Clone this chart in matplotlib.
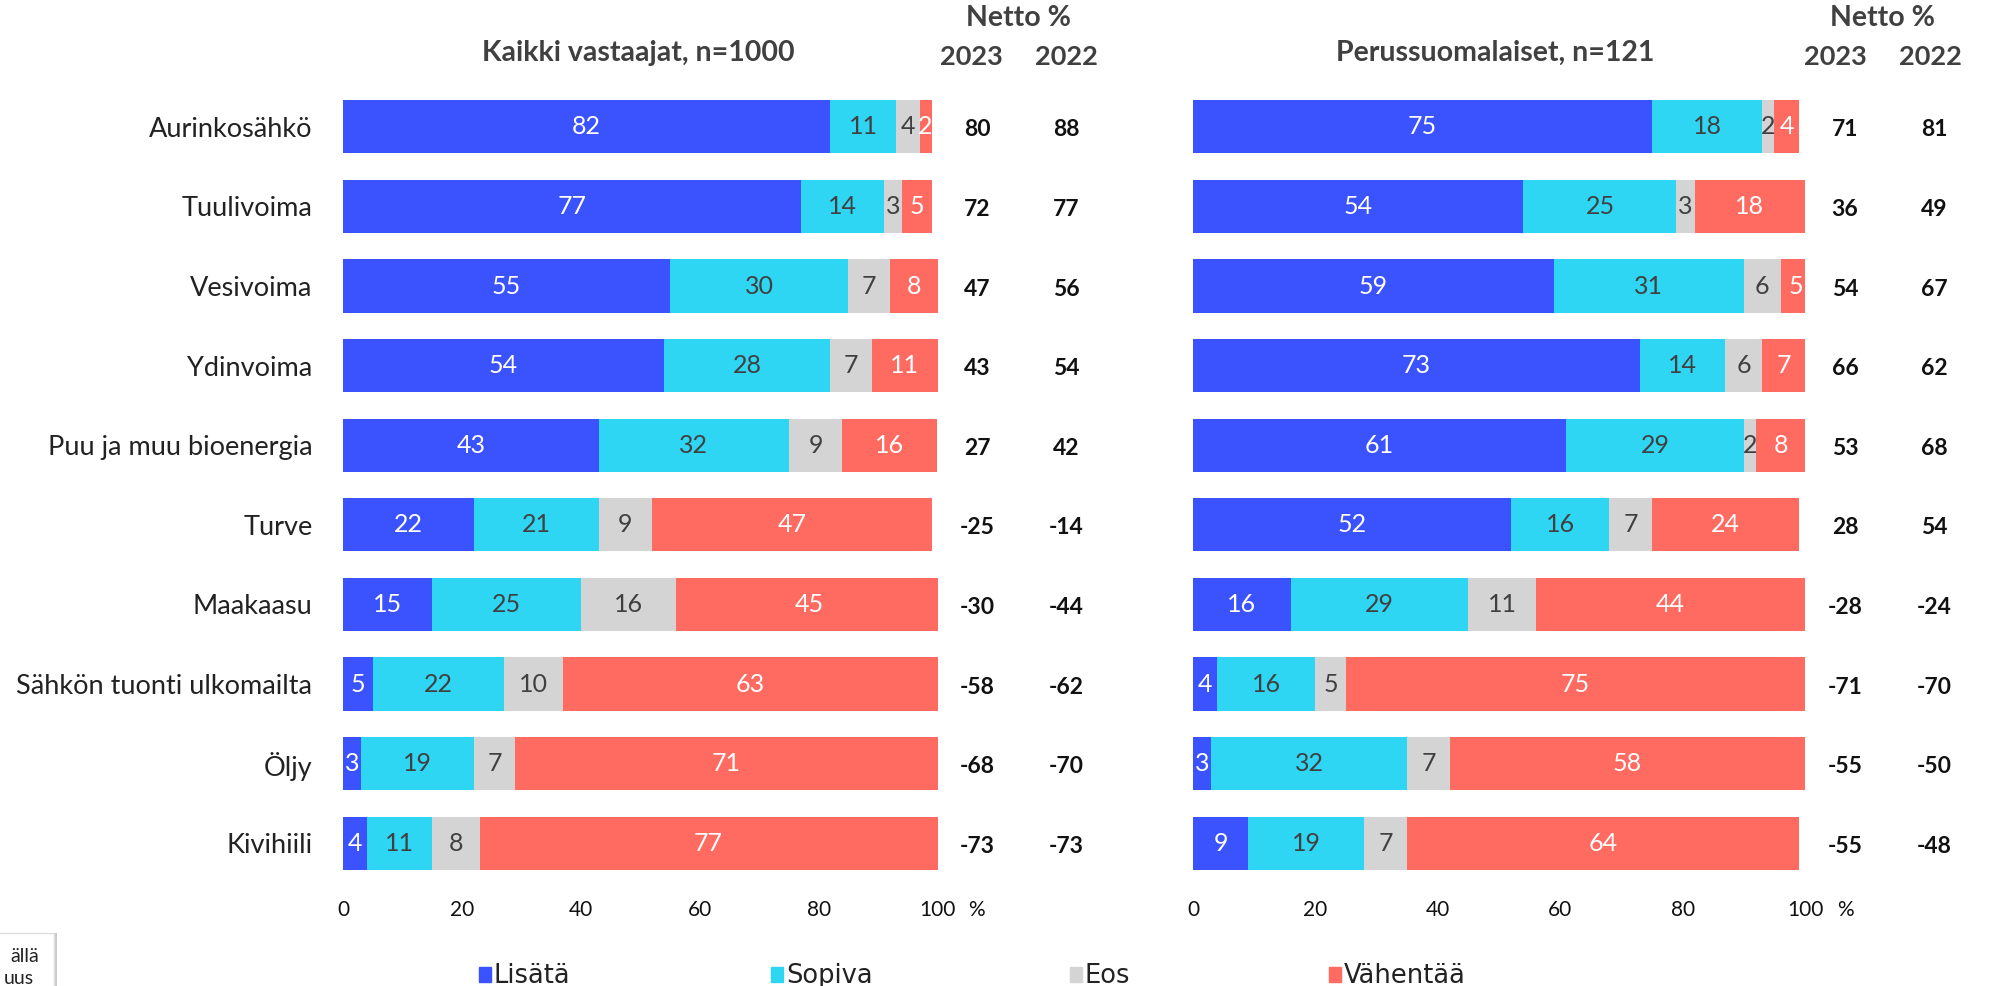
import matplotlib
matplotlib.use("Agg")
import matplotlib.pyplot as plt
from matplotlib.patches import Rectangle
from matplotlib.transforms import blended_transform_factory
import numpy as np

categories = ["Aurinkosähkö", "Tuulivoima", "Vesivoima", "Ydinvoima",
              "Puu ja muu bioenergia", "Turve", "Maakaasu",
              "Sähkön tuonti ulkomailta", "Öljy", "Kivihiili"]
series_names = ["Lisätä", "Sopiva", "Eos", "Vähentää"]

# Kaikki vastaajat, n=1000
all_lisata = [82, 77, 55, 54, 43, 22, 15, 5, 3, 4]
all_sopiva = [11, 14, 30, 28, 32, 21, 25, 22, 19, 11]
all_eos = [4, 3, 7, 7, 9, 9, 16, 10, 7, 8]
all_vahentaa = [2, 5, 8, 11, 16, 47, 45, 63, 71, 77]
all_net_2023 = [80, 72, 47, 43, 27, -25, -30, -58, -68, -73]
all_net_2022 = [88, 77, 56, 54, 42, -14, -44, -62, -70, -73]

# Perussuomalaiset, n=121
ps_lisata = [75, 54, 59, 73, 61, 52, 16, 4, 3, 9]
ps_sopiva = [18, 25, 31, 14, 29, 16, 29, 16, 32, 19]
ps_eos = [2, 3, 6, 6, 2, 7, 11, 5, 7, 7]
ps_vahentaa = [4, 18, 5, 7, 8, 24, 44, 75, 58, 64]
ps_net_2023 = [71, 36, 54, 66, 53, 28, -28, -71, -55, -55]
ps_net_2022 = [81, 49, 67, 62, 68, 54, -24, -70, -50, -48]

xticks = [0, 20, 40, 60, 80, 100]

colors = ["#3A53FE", "#2ED6F4", "#D4D4D4", "#FF6B60"]
text_colors = ["white", "#404040", "#404040", "white"]

W, H = 1990, 986
fig = plt.figure(figsize=(W / 100, H / 100), dpi=100)
FONT = "Lato"
plt.rcParams["font.family"] = [FONT, "DejaVu Sans"]


def fx(px):
    return px / W


def fy(py):
    return 1 - py / H


top_px, bot_px = 87, 883
ax_l = fig.add_axes([fx(343), fy(bot_px), fx(937.5) - fx(343), (bot_px - top_px) / H])
ax_r = fig.add_axes([fx(1193), fy(bot_px), fx(1805) - fx(1193), (bot_px - top_px) / H])


def draw(ax, data, net23, net22, x23, x22, show_cats):
    y = np.arange(len(categories))
    left = np.zeros(len(categories))
    for vals, c, tc in zip(data, colors, text_colors):
        vals = np.array(vals, dtype=float)
        ax.barh(y, vals, left=left, height=0.67, color=c, edgecolor="none")
        for yi, (l, v) in enumerate(zip(left, vals)):
            ax.text(l + v / 2, yi, f"{int(v)}", ha="center", va="center",
                    color=tc, fontsize=18)
        left += vals
    ax.set_xlim(0, 100)
    ax.set_ylim(len(categories) - 0.5, -0.5)
    ax.set_xticks(xticks)
    ax.set_xticklabels([str(t) for t in xticks])
    ax.tick_params(axis="x", length=0, labelsize=15, pad=12, labelcolor="#111111")
    ax.set_yticks(y)
    if show_cats:
        ax.set_yticklabels(categories)
        ax.tick_params(axis="y", length=0, labelsize=19.5, pad=22, labelcolor="#222222")
    else:
        ax.set_yticklabels([])
        ax.tick_params(axis="y", length=0)
    for s in ax.spines.values():
        s.set_visible(False)
    tr = blended_transform_factory(fig.transFigure, ax.transData)
    for yi in range(len(categories)):
        ax.text(fx(x23), yi + 0.04, f"{net23[yi]}", transform=tr, ha="center", va="center",
                fontsize=16.5, fontweight="bold", color="#111111")
        ax.text(fx(x22), yi + 0.04, f"{net22[yi]}", transform=tr, ha="center", va="center",
                fontsize=16.5, fontweight="bold", color="#111111")


draw(ax_l, [all_lisata, all_sopiva, all_eos, all_vahentaa], all_net_2023, all_net_2022,
     977, 1066, True)
draw(ax_r, [ps_lisata, ps_sopiva, ps_eos, ps_vahentaa], ps_net_2023, ps_net_2022,
     1845, 1934, False)

hdr = "#404040"
fig.text(fx(638), fy(53), "Kaikki vastaajat, n=1000", ha="center", va="center",
         fontsize=20.5, fontweight="bold", color=hdr)
fig.text(fx(1495), fy(53), "Perussuomalaiset, n=121", ha="center", va="center",
         fontsize=20.5, fontweight="bold", color=hdr)
for xn, x3, x2 in [(1019, 971, 1066), (1883, 1835, 1930)]:
    fig.text(fx(xn), fy(18), "Netto %", ha="center", va="center",
             fontsize=20.5, fontweight="bold", color=hdr)
    fig.text(fx(x3), fy(57), "2023", ha="center", va="center",
             fontsize=19.5, fontweight="bold", color=hdr)
    fig.text(fx(x2), fy(57), "2022", ha="center", va="center",
             fontsize=19.5, fontweight="bold", color=hdr)

fig.text(fx(976), fy(910), "%", ha="center", va="center", fontsize=15, color="#111111")
fig.text(fx(1845), fy(910), "%", ha="center", va="center", fontsize=15, color="#111111")

# legend
leg_x = [485, 777, 1076, 1335]
for name, c, xp in zip(series_names, colors, leg_x):
    fig.patches.append(Rectangle((fx(xp - 6), fy(982)), 12 / W, 15 / H, color=c,
                                 transform=fig.transFigure))
    fig.text(fx(xp + 9), fy(983), name, ha="left", va="baseline", fontsize=18.5,
             color="#222222", family=["Liberation Sans Narrow", "DejaVu Sans"])

# partially visible note box at bottom left
fig.patches.append(Rectangle((fx(-10), fy(993)), 67 / W, 60 / H, facecolor="#cccccc",
                             edgecolor="none", transform=fig.transFigure))
fig.patches.append(Rectangle((fx(-10), fy(990)), 64 / W, 57 / H, facecolor="white",
                             edgecolor="#dddddd", linewidth=1, transform=fig.transFigure))
fig.text(fx(39), fy(957), "ällä", ha="right", va="center", fontsize=14, color="#222222")
fig.text(fx(34), fy(978), "uus", ha="right", va="center", fontsize=14, color="#222222")

fig.savefig("out.png", dpi=100)
